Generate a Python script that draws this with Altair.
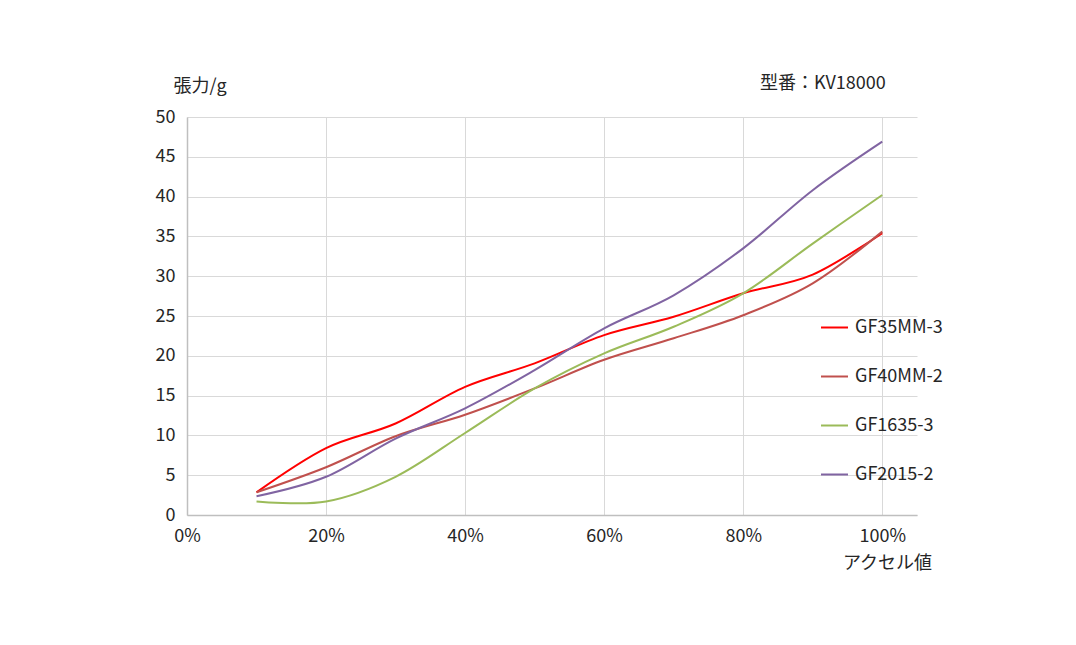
import altair as alt
import pandas as pd

accel = [0.1, 0.2, 0.3, 0.4, 0.5, 0.6, 0.7, 0.8, 0.9, 1.0]
series_names = ["GF35MM-3", "GF40MM-2", "GF1635-3", "GF2015-2"]
gf35mm_3 = [2.85, 8.4, 11.5, 16.1, 19.05, 22.6, 24.9, 27.85, 30.2, 35.4]
gf40mm_2 = [2.85, 6.0, 9.9, 12.6, 15.9, 19.5, 22.2, 25.1, 29.1, 35.6]
gf1635_3 = [1.7, 1.7, 4.8, 10.3, 15.9, 20.3, 23.65, 27.85, 34.1, 40.2]
gf2015_2 = [2.35, 4.8, 9.6, 13.4, 18.2, 23.45, 27.6, 33.5, 40.8, 46.9]
colors = ["#FF0000", "#C0504D", "#9BBB59", "#8064A2"]
x_ticks = [0, 0.2, 0.4, 0.6, 0.8, 1.0]
y_ticks = [0, 5, 10, 15, 20, 25, 30, 35, 40, 45, 50]

rows = []
for name, vals in zip(series_names, [gf35mm_3, gf40mm_2, gf1635_3, gf2015_2]):
    for a, v in zip(accel, vals):
        rows.append({"series": name, "accel": a, "tension": v})
df = pd.DataFrame(rows)

FONT = "Noto Sans CJK JP"

lines = alt.Chart(df).mark_line(interpolate="cardinal", strokeWidth=2).encode(
    x=alt.X("accel:Q",
            scale=alt.Scale(domain=[0, 1.05], nice=False, zero=True),
            axis=alt.Axis(values=x_ticks, format="%", title="アクセル値",
                          titleX=700, titleY=48, titleAlign="center",
                          titleBaseline="middle", titleFontWeight="normal",
                          labelPadding=12, labelFlush=False)),
    y=alt.Y("tension:Q",
            scale=alt.Scale(domain=[0, 50], nice=False),
            axis=alt.Axis(values=y_ticks, title="張力/g", titleAngle=0,
                          titleX=-14, titleY=-31, titleAlign="left",
                          titleBaseline="middle", titleFontWeight="normal",
                          labelPadding=12, labelFlush=False)),
    color=alt.Color("series:N",
                    scale=alt.Scale(domain=series_names, range=colors),
                    sort=series_names,
                    legend=alt.Legend(title=None, orient="none",
                                      legendX=633, legendY=196,
                                      symbolType="stroke", symbolSize=729,
                                      symbolStrokeWidth=2, rowPadding=25,
                                      labelOffset=6, labelFontSize=18,
                                      labelFont=FONT, labelColor="#262626")),
)

model = alt.Chart(pd.DataFrame({"t": ["型番：KV18000"]})).mark_text(
    align="left", baseline="middle", fontSize=18, font=FONT, color="#262626"
).encode(x=alt.value(573), y=alt.value(-33), text="t:N")

chart = alt.layer(lines, model).properties(
    width=730, height=398,
    autosize=alt.AutoSizeParams(type="none"),
    padding={"left": 179, "top": 109, "right": 150, "bottom": 120},
).configure_view(stroke=None).configure_axis(
    grid=True, gridColor="#D9D9D9", gridWidth=1,
    domainColor="#BFBFBF", domainWidth=1.5, ticks=False,
    labelFont=FONT, labelFontSize=18, labelColor="#262626",
    titleFont=FONT, titleFontSize=18, titleColor="#262626",
)

chart.save("out.html", embed_options={"renderer": "svg", "actions": False})
